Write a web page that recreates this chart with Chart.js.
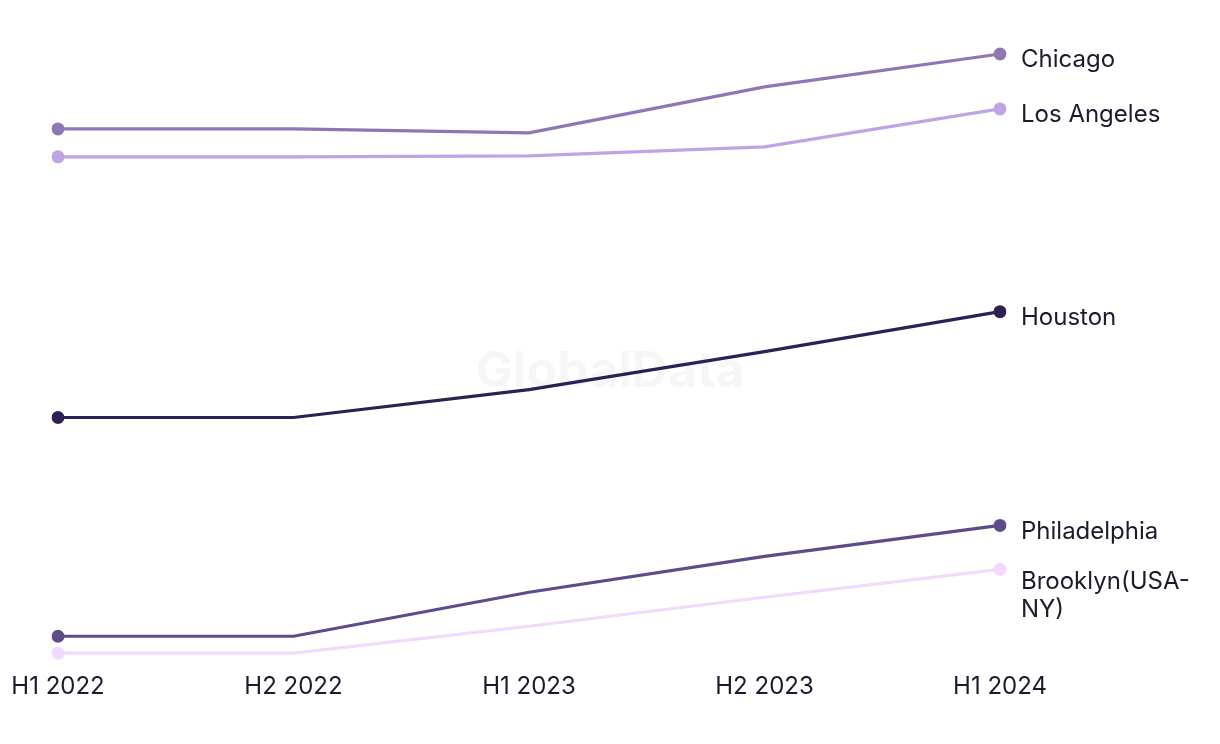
<!DOCTYPE html>
<html>
<head>
<meta charset="utf-8">
<script src="https://cdn.jsdelivr.net/npm/chart.js@4.4.1/dist/chart.umd.min.js"></script>
<style>
  html, body { margin: 0; padding: 0; background: #fff; }
  #wrap { width: 1220px; height: 744px; position: relative; }
</style>
</head>
<body>
<div id="wrap"><canvas id="chart"></canvas></div>
<script>
// periodes (axe x)
const periods = ["H1 2022", "H2 2022", "H1 2023", "H2 2023", "H1 2024"];

// valeurs (échelle relative, pas d'axe y affiché)
const chicago = [53.6, 53.6, 53.2, 57.8, 61.1];
const losAngeles = [50.8, 50.8, 50.9, 51.8, 55.6];
const houston = [24.7, 24.7, 27.5, 31.3, 35.3];
const philadelphia = [2.8, 2.8, 7.2, 10.8, 13.9];
const brooklyn = [1.1, 1.1, 3.8, 6.7, 9.5];

const cityNames = ["Chicago", "Los Angeles", "Houston", "Philadelphia", ["Brooklyn(USA-", "NY)"]];
const cityColors = ["#8e77b3", "#bea4e2", "#2f2053", "#5f4b87", "#f1dafc"];
const cityValues = [chicago, losAngeles, houston, philadelphia, brooklyn];

const FONT = "Inter, 'Noto Sans', sans-serif";
const TEXT = "#1c1a2e";

// seulement le premier et le dernier point
const pointSizes = periods.map((p, i) => (i === 0 || i === periods.length - 1) ? 6.5 : 0);

const datasets = cityValues.map((vals, i) => ({
    label: Array.isArray(cityNames[i]) ? cityNames[i].join('') : cityNames[i],
    data: vals,
    borderColor: cityColors[i],
    backgroundColor: cityColors[i],
    borderWidth: 3.2,
    pointRadius: pointSizes,
    pointHoverRadius: pointSizes,
    pointBorderWidth: 0,
    tension: 0
}));

// libellés à droite du dernier point + filigrane
const endLabels = {
    id: 'endLabels',
    beforeDatasetsDraw(chart) {
        const ctx = chart.ctx;
        ctx.save();
        ctx.font = "bold 50px " + FONT;
        ctx.fillStyle = "rgba(0,0,0,0.035)";
        ctx.textAlign = "center";
        ctx.textBaseline = "middle";
        ctx.fillText("GlobalData", 610, 372);
        ctx.restore();
    },
    afterDatasetsDraw(chart) {
        const ctx = chart.ctx;
        ctx.save();
        ctx.font = "24px " + FONT;
        ctx.fillStyle = TEXT;
        ctx.textAlign = "left";
        ctx.textBaseline = "middle";
        chart.data.datasets.forEach((ds, i) => {
            const meta = chart.getDatasetMeta(i);
            const pt = meta.data[meta.data.length - 1];
            const lines = Array.isArray(cityNames[i]) ? cityNames[i] : [cityNames[i]];
            const first = lines.length > 1 ? pt.y + 12 : pt.y + 6;
            lines.forEach((t, k) => ctx.fillText(t, pt.x + 21, first + k * 28));
        });
        ctx.restore();
    }
};

new Chart(
    document.getElementById('chart'),
    {
        type: 'line',
        data: {
            labels: periods,
            datasets: datasets
        },
        options: {
            responsive: true,
            maintainAspectRatio: false,
            animation: false,
            layout: {
                padding: { left: 58, right: 220, top: 40, bottom: 35 }
            },
            scales: {
                x: {
                    offset: false,
                    grid: { display: false, drawTicks: false },
                    border: { display: false },
                    ticks: {
                        color: TEXT,
                        padding: 8,
                        maxRotation: 0,
                        font: { family: FONT, size: 24 }
                    }
                },
                y: {
                    display: false,
                    min: 0,
                    max: 62.5
                }
            },
            plugins: {
                legend: { display: false },
                tooltip: { enabled: false }
            }
        },
        plugins: [endLabels]
    }
);
</script>
</body>
</html>
